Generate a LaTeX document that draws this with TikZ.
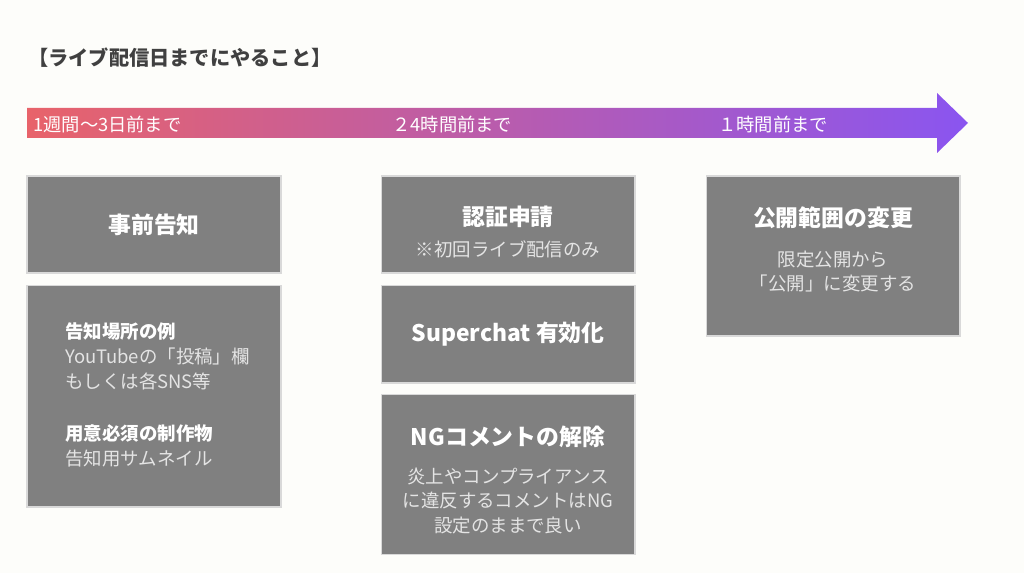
\documentclass[tikz,border=0pt]{standalone}
\usepackage{fontspec}
\setmainfont{Noto Sans CJK JP}
\usepackage{tikz}
\usetikzlibrary{positioning}

\definecolor{pagebg}{HTML}{FDFDFA}
\definecolor{boxgray}{HTML}{808080}
\definecolor{boxedge}{HTML}{D9D9D9}
\definecolor{notetext}{HTML}{E4E4E4}
\definecolor{headtext}{HTML}{404040}
\definecolor{arrowstart}{HTML}{E8636A}
\definecolor{arrowend}{HTML}{8A55F0}

\tikzset{
  taskbox/.style={draw=boxedge,line width=0.6pt,fill=boxgray,minimum width=5.08cm,inner sep=0pt},
  tasktitle/.style={text=white,font=\fontsize{13}{15}\selectfont\bfseries},
  tasknote/.style={text=notetext,font=\fontsize{10.5}{14}\selectfont,align=center},
  phaselabel/.style={text=white,font=\fontsize{10.4}{12}\selectfont,anchor=west,inner sep=0pt},
}

\begin{document}
\begin{tikzpicture}[x=0.02cm,y=-0.02cm]
 \fill[pagebg] (0,0) rectangle (1024,573);
 \node[anchor=west,inner sep=0pt,text=headtext,font=\fontsize{11.5}{13}\selectfont\bfseries](pagetitle) at (28,58){【ライブ配信日までにやること】};

 % timeline arrow
 \shade[left color=arrowstart,right color=arrowend] (27,108) -- (937,108) -- (937,93) -- (968,123) -- (937,153) -- (937,138) -- (27,138) -- cycle;
 \node[phaselabel](weekbefore) at (33,125){1週間〜3日前まで};
 \node[phaselabel](daybefore) at (392,125){２4時間前まで};
 \node[phaselabel](hourbefore) at (718,125){１時間前まで};

 % 1 week -- 3 days
 \node[taskbox,minimum height=1.94cm](notice) at (154,224.5){};
 \node[taskbox,minimum height=4.44cm,below=0.22cm of notice](noticeinfo){};
 \node[tasktitle](noticetitle) at (notice){事前告知};
 \node[anchor=north west,inner sep=0pt,text=notetext,align=left,font=\fontsize{10.5}{14.4}\selectfont](noticelist) at (65,322){{\bfseries\color{white}告知場所の例}\\YouTubeの「投稿」欄\\もしくは各SNS等\\[15pt]{\bfseries\color{white}用意必須の制作物}\\告知用サムネイル};

 % 24 hours
 \node[taskbox,minimum height=1.94cm](verify) at (508,224.5){};
 \node[taskbox,minimum height=1.96cm,below=0.22cm of verify](superchat){};
 \node[taskbox,minimum height=3.2cm,below=0.2cm of superchat](ngword){};
 \node[tasktitle](verifytitle) at (508,217){認証申請};
 \node[tasknote](verifynote) at (508,249){※初回ライブ配信のみ};
 \node[tasktitle](superchattitle) at (superchat){Superchat 有効化};
 \node[tasktitle](ngtitle) at (508,437){NGコメントの解除};
 \node[tasknote](ngnote) at (508,501){炎上やコンプライアンス\\に違反するコメントはNG\\設定のままで良い};

 % 1 hour
 \node[taskbox,minimum height=3.2cm](publish) at (833,256){};
 \node[tasktitle](publishtitle) at (833,218){公開範囲の変更};
 \node[tasknote](publishnote) at (833,271.5){限定公開から\\「公開」に変更する};
\end{tikzpicture}
\end{document}
